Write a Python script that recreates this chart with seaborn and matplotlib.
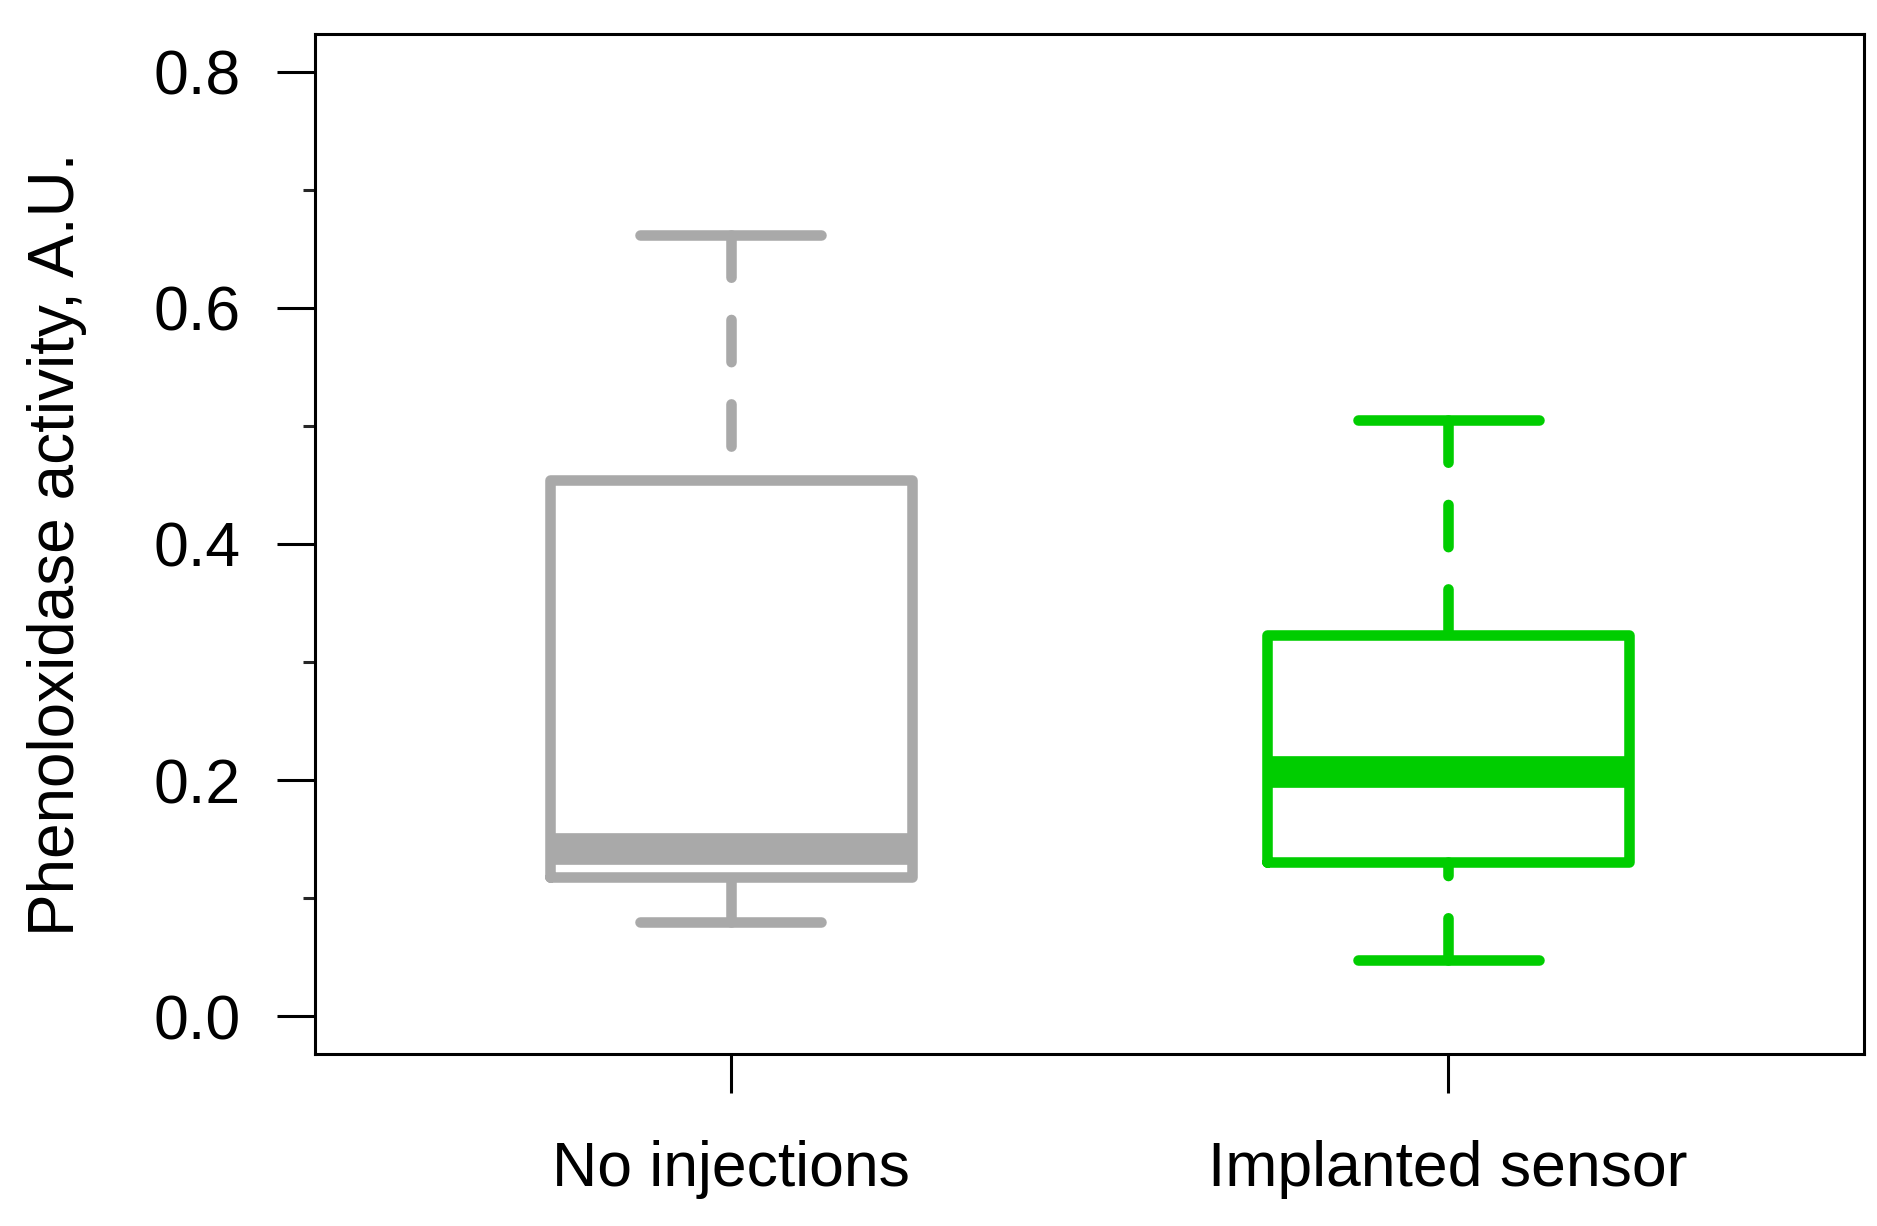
import numpy as np
import pandas as pd
import matplotlib
matplotlib.use("Agg")
import matplotlib.pyplot as plt
import seaborn as sns

# ---- data (five-number summaries) ----
categories = ["No injections", "Implanted sensor"]
no_injections = [0.080, 0.1177, 0.1418, 0.4543, 0.6617]
implanted_sensor = [0.0479, 0.1308, 0.207, 0.323, 0.505]
colors = ["#A9A9A9", "#00CD00"]
y_ticks = [0.0, 0.2, 0.4, 0.6, 0.8]
y_minor = [0.1, 0.3, 0.5, 0.7]
y_label = "Phenoloxidase activity, A.U."

df = pd.DataFrame({
    "group": [categories[0]] * len(no_injections) + [categories[1]] * len(implanted_sensor),
    "value": no_injections + implanted_sensor,
})

sns.set_theme(style="ticks")
plt.rcParams["font.family"] = ["Liberation Sans", "DejaVu Sans"]
plt.rcParams["text.color"] = "black"

fig = plt.figure(figsize=(18.77, 12.26), dpi=100)
ax = fig.add_axes([0.1678, 0.1403, 0.9931 - 0.1678, 0.9723 - 0.1403])

lw = 7.6
sns.boxplot(
    data=df, x="group", y="value", hue="group", order=categories,
    hue_order=categories, palette=colors, fill=False, legend=False,
    width=0.505, linewidth=lw, whis=(0, 100), showfliers=False, ax=ax,
    whiskerprops=dict(linestyle=(0, (4, 4)), dash_capstyle="round"),
    capprops=dict(solid_capstyle="round"),
    medianprops=dict(linewidth=lw * 3, solid_capstyle="butt"),
    boxprops=dict(solid_joinstyle="round", solid_capstyle="round"),
)

# R draws whiskers from the cap toward the box: reverse direction for dash phase
for c in ax.containers:
    if hasattr(c, "whiskers"):
        for w in c.whiskers:
            x, y = w.get_data()
            w.set_data(np.asarray(x)[::-1], np.asarray(y)[::-1])

ax.set_xlim(-0.58, 1.58)
ax.set_ylim(-0.032, 0.832)
ax.set_yticks(y_ticks)
ax.set_yticklabels([f"{t:.1f}" for t in y_ticks])
ax.set_yticks(y_minor, minor=True)
ax.set_xticks([0, 1])
ax.set_xticklabels(categories)

ax.tick_params(axis="y", which="major", direction="out", length=27.4, width=2.2,
               labelsize=45, pad=26, colors="black")
ax.tick_params(axis="y", which="minor", direction="out", length=8.6, width=2.2)
ax.tick_params(axis="x", which="major", direction="out", length=28, width=2.2,
               labelsize=45, pad=34, colors="black")
ax.tick_params(axis="x", which="minor", bottom=False)

for s in ax.spines.values():
    s.set_visible(True)
    s.set_linewidth(2.2)
    s.set_color("black")

ax.set_xlabel("")
ax.set_ylabel(y_label, fontsize=46, color="black")
ax.yaxis.set_label_coords(-0.147, 0.5)

fig.savefig("out.png", dpi=100, facecolor="white")
